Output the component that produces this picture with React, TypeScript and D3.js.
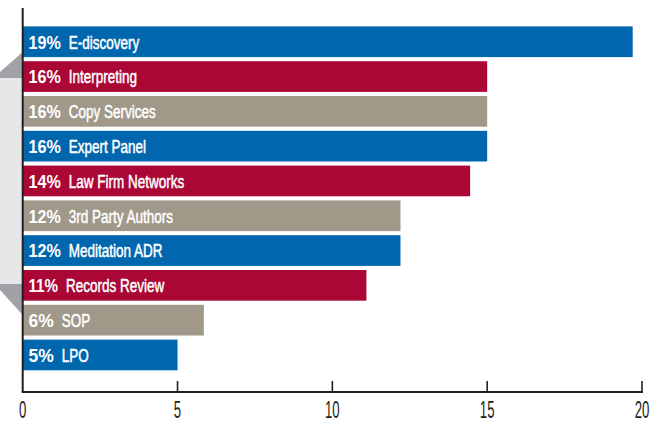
import React from "react";
import * as d3 from "d3";

const categories = [
  "E-discovery",
  "Interpreting",
  "Copy Services",
  "Expert Panel",
  "Law Firm Networks",
  "3rd Party Authors",
  "Meditation ADR",
  "Records Review",
  "SOP",
  "LPO",
];
const percentLabels = ["19%", "16%", "16%", "16%", "14%", "12%", "12%", "11%", "6%", "5%"];
const barValues = [19.7, 15.0, 15.0, 15.0, 14.45, 12.2, 12.2, 11.1, 5.85, 5.0];
const xTicks = [0, 5, 10, 15, 20];
const palette = ["#0067AE", "#AA0636", "#A09889"];

const W = 661;
const H = 422;

// approximate glyph widths (em) of the bold percent font
const glyphW = (ch: string) => (ch === "1" ? 0.4 : ch === "%" ? 0.889 : 0.556);
const pctWidth = (s: string, fs: number) =>
  s.split("").reduce((a, ch) => a + glyphW(ch), 0) * fs;

export default function App() {
  const x = d3.scaleLinear().domain([0, 20]).range([22.7, 642]);
  const y = d3
    .scaleBand<string>()
    .domain(categories)
    .range([24.35, 372.35])
    .paddingInner(0.118)
    .paddingOuter(0.059);
  const x0 = x(0);
  const axisY = 392;
  const sans = "'Liberation Sans', Arial, sans-serif";
  const pctFs = 17.5;
  const nameFs = 18;
  const nameScale = 0.75;

  return (
    <svg
      width={W}
      height={H}
      viewBox={`0 0 ${W} ${H}`}
      style={{ position: "absolute", left: 0, top: 0, display: "block", background: "#fff" }}
    >
      {/* decorative bracket on the left */}
      <rect x={0} y={78} width={x0} height={206} fill="#E6E7E9" />
      <polygon points={`0,72 ${x0},52 ${x0},78 0,78`} fill="#A1A2A5" />
      <polygon points={`0,284 ${x0},284 ${x0},315 0,290`} fill="#A1A2A5" />

      {categories.map((c, i) => {
        const top = y(c)!;
        const bh = y.bandwidth();
        const base = top + bh / 2 + 6.8;
        const pw = pctWidth(percentLabels[i], pctFs);
        const nx = 28.5 + pw + 8;
        return (
          <g key={c}>
            <rect
              x={x0}
              y={top}
              width={x(barValues[i]) - x0}
              height={bh}
              fill={palette[i % 3]}
            />
            <text
              x={28.5}
              y={base}
              fill="#fff"
              fontFamily={sans}
              fontWeight="bold"
              fontSize={pctFs}
              textLength={pw}
              lengthAdjust="spacingAndGlyphs"
            >
              {percentLabels[i]}
            </text>
            <text
              transform={`translate(${nx},${base}) scale(${nameScale},1)`}
              fill="#fff"
              stroke="#fff"
              strokeWidth={0.5}
              fontFamily={sans}
              fontSize={nameFs}
            >
              {c}
            </text>
          </g>
        );
      })}

      {/* axes */}
      <line x1={x0} x2={x0} y1={8} y2={axisY} stroke="#231F20" strokeWidth={2} />
      <line x1={x0 - 1} x2={x(20) + 1} y1={axisY} y2={axisY} stroke="#231F20" strokeWidth={2} />
      {xTicks.map((t) => (
        <g key={t}>
          {t > 0 && (
            <line x1={x(t)} x2={x(t)} y1={axisY - 11} y2={axisY} stroke="#231F20" strokeWidth={1.6} />
          )}
          <text
            transform={`translate(${x(t)},418) scale(0.56,1)`}
            textAnchor="middle"
            fontFamily={sans}
            fontSize={23.5}
            fill="#231F20"
          >
            {t}
          </text>
        </g>
      ))}
    </svg>
  );
}
